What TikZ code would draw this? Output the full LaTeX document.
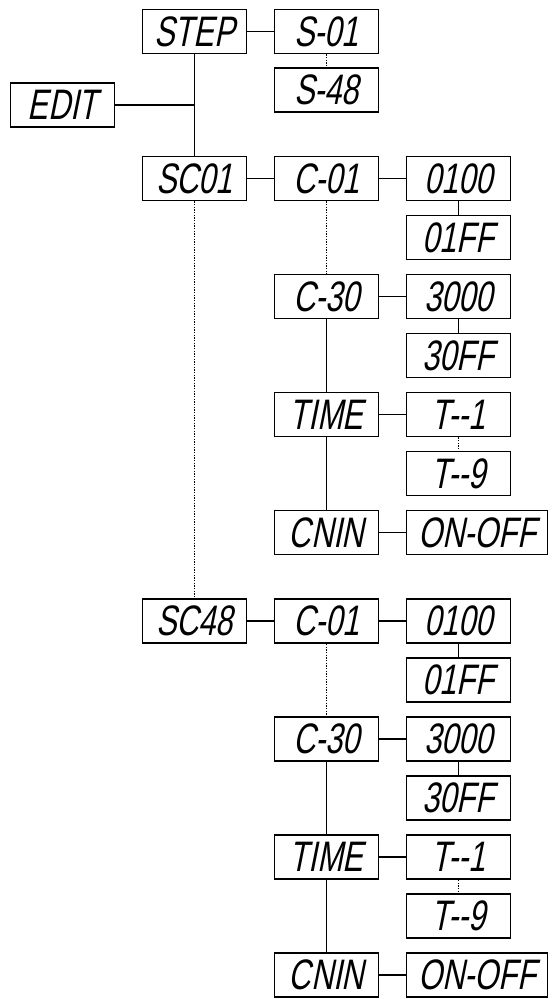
\documentclass[tikz,border=0pt]{standalone}
\usepackage{fontspec}
\newfontfamily\lcdfont[FakeStretch=0.72,FakeSlant=0.2]{Liberation Sans}
\tikzset{
  lcd/.style={draw, line width=1.4pt, minimum width=78pt, minimum height=33pt, inner sep=0pt, font=\lcdfont\fontsize{32}{32}\selectfont},
  lcdwide/.style={lcd, minimum width=105.75pt},
  link/.style={line width=1pt},
  dots/.style={line width=0.6pt, dash pattern=on 1pt off 1pt}
}
\begin{document}
\begin{tikzpicture}[x=0.75pt,y=0.75pt,yscale=-1,xscale=1]
\useasboundingbox (0,0) rectangle (551,999);

% Menu top
\node [lcd] (step) at (194.5,31.5) {STEP};
\node [lcd] (s01) at (326.5,31.5) {S-01};
\node [lcd] (s48) at (326.5,90) {S-48};
\node [lcd] (edit) at (62.5,105) {EDIT};
\coordinate (editj) at (194.5,105);

% Scene 01
\node [lcd] (sc01) at (194.5,178.5) {SC01};
\node [lcd] (ca01) at (326.5,178.5) {C-01};
\node [lcd] (va0100) at (458.5,178.5) {0100};
\node [lcd] (va01ff) at (458.5,237.5) {01FF};
\node [lcd] (ca30) at (326.5,296.5) {C-30};
\node [lcd] (va3000) at (458.5,296.5) {3000};
\node [lcd] (va30ff) at (458.5,355.5) {30FF};
\node [lcd] (tia) at (326.5,414.5) {TIME};
\node [lcd] (ta1) at (458.5,414.5) {T--1};
\node [lcd] (ta9) at (458.5,473.5) {T--9};
\node [lcd] (cna) at (326.5,532.5) {CNIN};
\node [lcdwide] (ona) at (477,532.5) {ON-OFF};

% Scene 48
\node [lcd] (sc48) at (194.5,621) {SC48};
\node [lcd] (cb01) at (326.5,621) {C-01};
\node [lcd] (vb0100) at (458.5,621) {0100};
\node [lcd] (vb01ff) at (458.5,680) {01FF};
\node [lcd] (cb30) at (326.5,739) {C-30};
\node [lcd] (vb3000) at (458.5,739) {3000};
\node [lcd] (vb30ff) at (458.5,798) {30FF};
\node [lcd] (tib) at (326.5,857) {TIME};
\node [lcd] (tb1) at (458.5,857) {T--1};
\node [lcd] (tb9) at (458.5,916) {T--9};
\node [lcd] (cnb) at (326.5,975) {CNIN};
\node [lcdwide] (onb) at (477,975) {ON-OFF};

% Links top
\draw [link] (step) -- (s01);
\draw [dots] (s01) -- (s48);
\draw [link] (step) -- (sc01);
\draw [link] (edit) -- (editj);
\draw [dots] (sc01) -- (sc48);

% Links scene 01
\draw [link] (sc01) -- (ca01);
\draw [link] (ca01) -- (va0100);
\draw [link] (va0100) -- (va01ff);
\draw [dots] (ca01) -- (ca30);
\draw [link] (ca30) -- (va3000);
\draw [link] (va3000) -- (va30ff);
\draw [link] (ca30) -- (tia);
\draw [link] (tia) -- (ta1);
\draw [dots] (ta1) -- (ta9);
\draw [link] (tia) -- (cna);
\draw [link] (cna) -- (ona);

% Links scene 48
\draw [link] (sc48) -- (cb01);
\draw [link] (cb01) -- (vb0100);
\draw [link] (vb0100) -- (vb01ff);
\draw [dots] (cb01) -- (cb30);
\draw [link] (cb30) -- (vb3000);
\draw [link] (vb3000) -- (vb30ff);
\draw [link] (cb30) -- (tib);
\draw [link] (tib) -- (tb1);
\draw [dots] (tb1) -- (tb9);
\draw [link] (tib) -- (cnb);
\draw [link] (cnb) -- (onb);

\end{tikzpicture}
\end{document}
